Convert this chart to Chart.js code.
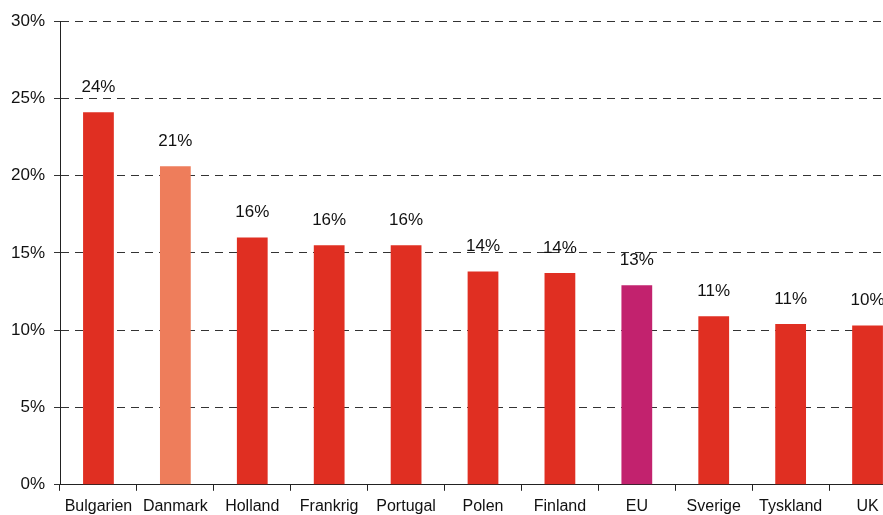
<!DOCTYPE html>
<html>
<head>
<meta charset="utf-8">
<script src="https://cdn.jsdelivr.net/npm/chart.js@4.4.0/dist/chart.umd.min.js"></script>
<style>
  html, body { margin: 0; padding: 0; background: #fff; overflow: hidden; }
  #wrap { position: absolute; left: 0; top: 0; width: 906px; height: 522px; }
</style>
</head>
<body>
<div id="wrap"><canvas id="chart" width="906" height="522"></canvas></div>
<script>
const countries = ["Bulgarien", "Danmark", "Holland", "Frankrig", "Portugal", "Polen", "Finland", "EU", "Sverige", "Tyskland", "UK"];
const shares = [24.1, 20.6, 16.0, 15.5, 15.5, 13.8, 13.7, 12.9, 10.9, 10.4, 10.3];
const valueLabels = ["24%", "21%", "16%", "16%", "16%", "14%", "14%", "13%", "11%", "11%", "10%"];
const barColors = ["#e02f22", "#ee7d5b", "#e02f22", "#e02f22", "#e02f22", "#e02f22", "#e02f22", "#c2226e", "#e02f22", "#e02f22", "#e02f22"];

const textColor = "#111";
const fontFamily = "'Liberation Sans', Arial, sans-serif";

// draws the percentage over each bar
const valueLabelPlugin = {
  id: "valueLabels",
  afterDatasetsDraw(chart) {
    const ctx = chart.ctx;
    const meta = chart.getDatasetMeta(0);
    ctx.save();
    ctx.fillStyle = textColor;
    ctx.font = "17px " + fontFamily;
    ctx.textAlign = "center";
    ctx.textBaseline = "middle";
    meta.data.forEach((bar, i) => {
      ctx.fillText(valueLabels[i], bar.x, bar.y - 25);
    });
    ctx.restore();
  }
};

const ctx = document.getElementById("chart").getContext("2d");

new Chart(ctx, {
  type: "bar",
  data: {
    labels: countries,
    datasets: [{
      data: shares,
      backgroundColor: barColors,
      borderWidth: 0,
      barPercentage: 0.8,
      categoryPercentage: 0.5,
    }],
  },
  options: {
    responsive: false,
    animation: false,
    layout: { padding: { top: 21, right: 0, left: 0, bottom: 0 } },
    plugins: {
      legend: { display: false },
      tooltip: { enabled: false }
    },
    scales: {
      x: {
        offset: true,
        grid: {
          offset: true,
          drawOnChartArea: false,
          tickLength: 6,
          color: "#222",
        },
        border: { color: "#222", width: 1 },
        ticks: {
          color: textColor,
          font: { size: 16, family: fontFamily },
          padding: 6,
          maxRotation: 0,
          autoSkip: false,
        }
      },
      y: {
        min: 0,
        max: 30,
        afterFit: scale => { scale.width = 60; },
        ticks: {
          stepSize: 5,
          color: textColor,
          font: { size: 17, family: fontFamily },
          padding: 9,
          callback: value => value + "%",
        },
        grid: {
          color: "#333",
          tickLength: 6,
          lineWidth: 1,
        },
        border: { color: "#222", width: 1, dash: [8, 6] },
      }
    }
  },
  plugins: [valueLabelPlugin]
});
</script>
</body>
</html>
